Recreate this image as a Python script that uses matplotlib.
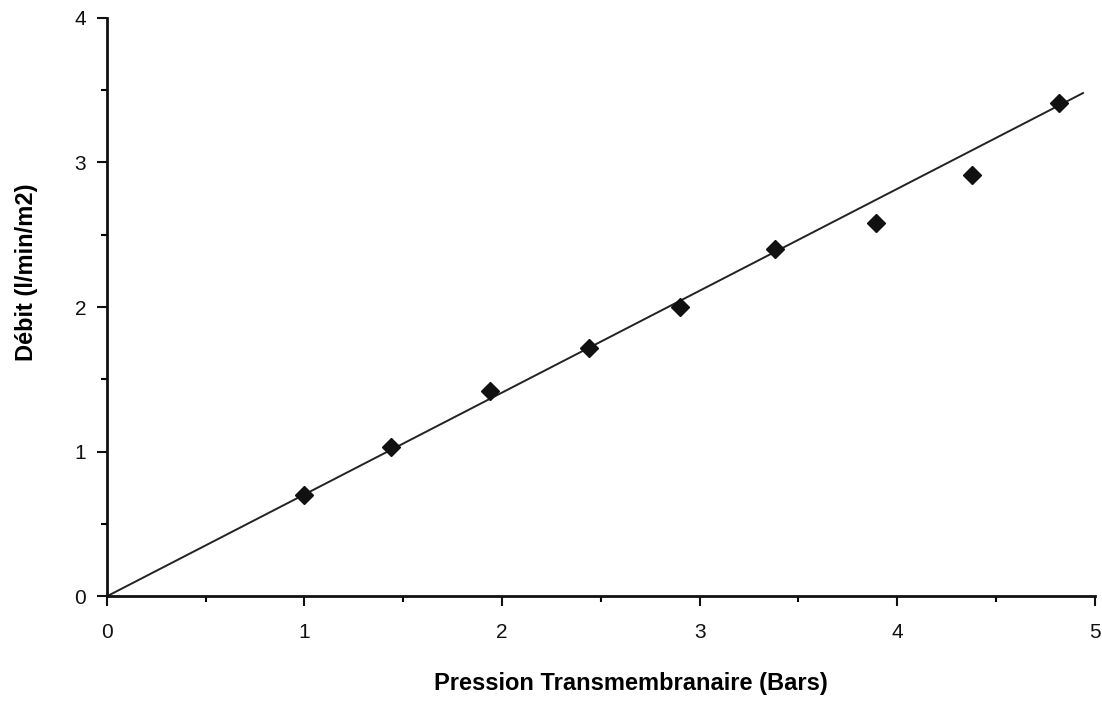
import matplotlib
matplotlib.use("Agg")
import matplotlib.pyplot as plt
from matplotlib.ticker import MultipleLocator

# measured points
pression = [1.0, 1.44, 1.94, 2.44, 2.90, 3.38, 3.89, 4.38, 4.82]
debit = [0.70, 1.03, 1.42, 1.72, 2.00, 2.40, 2.58, 2.91, 3.41]

# fitted line end points
fit_x = [0.0, 4.94]
fit_y = [0.0, 3.48]

plt.rcParams['font.family'] = ['Liberation Sans', 'DejaVu Sans']

fig = plt.figure(figsize=(11.02, 7.15), dpi=100)
ax = fig.add_axes([0.097, 0.166, 0.8965, 0.809])

ax.plot(fit_x, fit_y, color='#222222', lw=1.4)
ax.plot(pression, debit, 'D', color='#111111', ms=9, mec='#111111')

ax.set_xlim(0, 5)
ax.set_ylim(0, 4)
ax.xaxis.set_major_locator(MultipleLocator(1))
ax.xaxis.set_minor_locator(MultipleLocator(0.5))
ax.yaxis.set_major_locator(MultipleLocator(1))
ax.yaxis.set_minor_locator(MultipleLocator(0.5))

for s in ['top', 'right']:
    ax.spines[s].set_visible(False)
for s in ['left', 'bottom']:
    ax.spines[s].set_linewidth(2)
    ax.spines[s].set_color('#111111')

ax.tick_params(axis='both', which='major', length=7, width=1.5, labelsize=15, colors='#111111')
ax.tick_params(axis='both', which='minor', length=4, width=1.5)
ax.tick_params(axis='x', pad=12)
ax.tick_params(axis='y', pad=8)

ax.set_xlabel('Pression Transmembranaire (Bars)', fontsize=17, fontweight='bold', labelpad=22, x=0.53)
ax.set_ylabel('Débit (l/min/m2)', fontsize=17, fontweight='bold', labelpad=26, y=0.56)

fig.savefig('out.png', dpi=100)
